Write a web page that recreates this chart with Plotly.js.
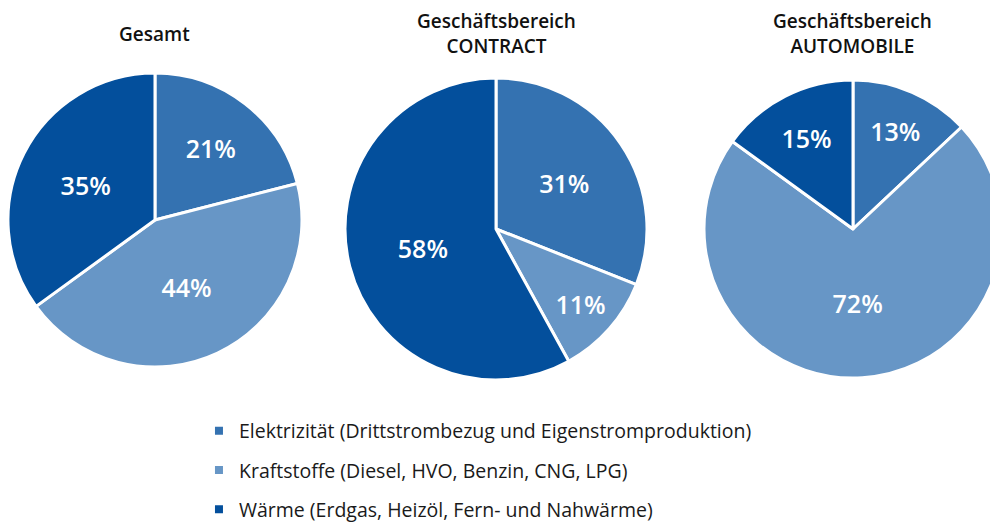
<!DOCTYPE html>
<html>
<head>
<meta charset="utf-8">
<script src="https://cdn.plot.ly/plotly-3.0.1.min.js"></script>
<style>
html, body { margin: 0; padding: 0; overflow: hidden; background: #fff; }
#chart { width: 1010px; height: 545px; }
</style>
</head>
<body>
<div id="chart"></div>
<script>
const categories = [
  "Elektrizität (Drittstrombezug und Eigenstromproduktion)",
  "Kraftstoffe (Diesel, HVO, Benzin, CNG, LPG)",
  "Wärme (Erdgas, Heizöl, Fern- und Nahwärme)"
];
const colors = ["#3472b1", "#6796c6", "#034f9c"];
const titles = ["Gesamt", "Geschäftsbereich<br>CONTRACT", "Geschäftsbereich<br>AUTOMOBILE"];
const valuesGesamt = [21, 44, 35];
const valuesContract = [31, 11, 58];
const valuesAutomobile = [13, 72, 15];

const allValues = [valuesGesamt, valuesContract, valuesAutomobile];
const domains = [
  {x: [0.0079, 0.2990], y: [0.3266, 0.8661]},
  {x: [0.3416, 0.6406], y: [0.3028, 0.8569]},
  {x: [0.6970, 0.9921], y: [0.3064, 0.8532]}
];
const titleY = [0.9376, 0.9394, 0.9394];
const fontFam = "'Open Sans', 'Noto Sans', sans-serif";

const traces = allValues.map((vals, i) => ({
  type: "pie",
  labels: categories,
  values: vals,
  sort: false,
  direction: "clockwise",
  rotation: 0,
  domain: domains[i],
  marker: {colors: colors, line: {color: "#ffffff", width: 3}},
  texttemplate: "%{value}%",
  textposition: "inside",
  insidetextorientation: "horizontal",
  textfont: {family: fontFam, size: 25, color: "#ffffff", weight: 600},
  hoverinfo: "label+percent",
  showlegend: false
}));

categories.forEach((c, i) => {
  traces.push({
    type: "scatter",
    x: [null], y: [null],
    mode: "markers",
    name: c,
    legendgroup: "g" + i,
    marker: {symbol: "square", size: 8, color: colors[i]},
    showlegend: true,
    hoverinfo: "skip"
  });
});

const annotations = titles.map((t, i) => ({
  text: t,
  xref: "paper", yref: "paper",
  x: (domains[i].x[0] + domains[i].x[1]) / 2,
  y: titleY[i],
  xanchor: "center", yanchor: "middle",
  showarrow: false,
  font: {family: fontFam, size: 19, color: "#111111", weight: 600}
}));

const layout = {
  width: 1010, height: 545,
  margin: {l: 0, r: 0, t: 0, b: 0},
  paper_bgcolor: "#ffffff",
  plot_bgcolor: "#ffffff",
  xaxis: {visible: false},
  yaxis: {visible: false},
  annotations: annotations,
  showlegend: true,
  legend: {
    x: 0.197, y: 0.245, xanchor: "left", yanchor: "top",
    orientation: "v",
    tracegroupgap: 11,
    itemwidth: 30,
    font: {family: fontFam, size: 19.5, color: "#1a1a1a"},
    bgcolor: "rgba(0,0,0,0)"
  }
};

Plotly.newPlot("chart", traces, layout, {displayModeBar: false, staticPlot: true});
</script>
</body>
</html>
